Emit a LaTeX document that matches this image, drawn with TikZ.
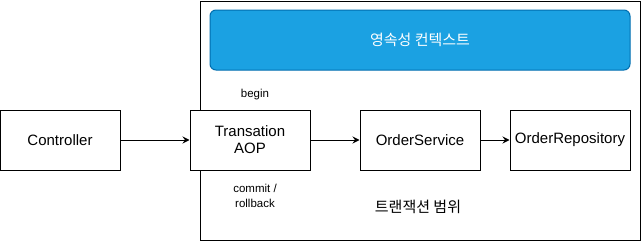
\documentclass[tikz,border=0pt]{standalone}
\usepackage{fontspec}
\setmainfont{Liberation Sans}
\newfontfamily\kofont{Noto Sans CJK KR}
\usetikzlibrary{arrows.meta}
\definecolor{ctxfill}{HTML}{1BA1E2}
\definecolor{ctxline}{HTML}{006EAF}
\begin{document}
\begin{tikzpicture}[x=1pt,y=-1pt,
  box/.style={draw=black,line width=1pt,minimum width=120pt,minimum height=60pt,inner sep=0pt,align=center,font=\fontsize{15}{17}\selectfont},
  lbl/.style={inner sep=0pt,align=center,font=\fontsize{11.5}{15}\selectfont},
  arr/.style={line width=1pt,-{Stealth[length=7pt,width=7pt,inset=2.5pt]}}]
\useasboundingbox (0,0) rectangle (641,241);
\node[draw=black,line width=1pt,minimum width=440pt,minimum height=239pt,inner sep=0pt] (frame) at (420,120.5) {};
\node[draw=ctxline,fill=ctxfill,rounded corners=6pt,line width=1pt,minimum width=420pt,minimum height=60pt,inner sep=0pt,text=white,font=\kofont\fontsize{15}{17}\selectfont] (ctx) at (420,40) {영속성 컨텍스트};
\node[box] (ctrl) at (60,140) {Controller};
\node[box,fill=white] (aop) at (250,140) {Transation\\AOP};
\node[box] (svc) at (420,140) {OrderService};
\node[box] (repo) at (570,140) {OrderRepository};
\node[lbl] (begin) at (255,95) {begin};
\node[lbl] (commit) at (255,195.5) {commit /\\rollback};
\node[inner sep=0pt,font=\kofont\fontsize{15}{17}\selectfont] (scope) at (418,207) {트랜잭션 범위};
\draw[arr] (ctrl) -- (aop);
\draw[arr] (aop) -- (svc);
\draw[arr] (svc) -- (repo);
\end{tikzpicture}
\end{document}
